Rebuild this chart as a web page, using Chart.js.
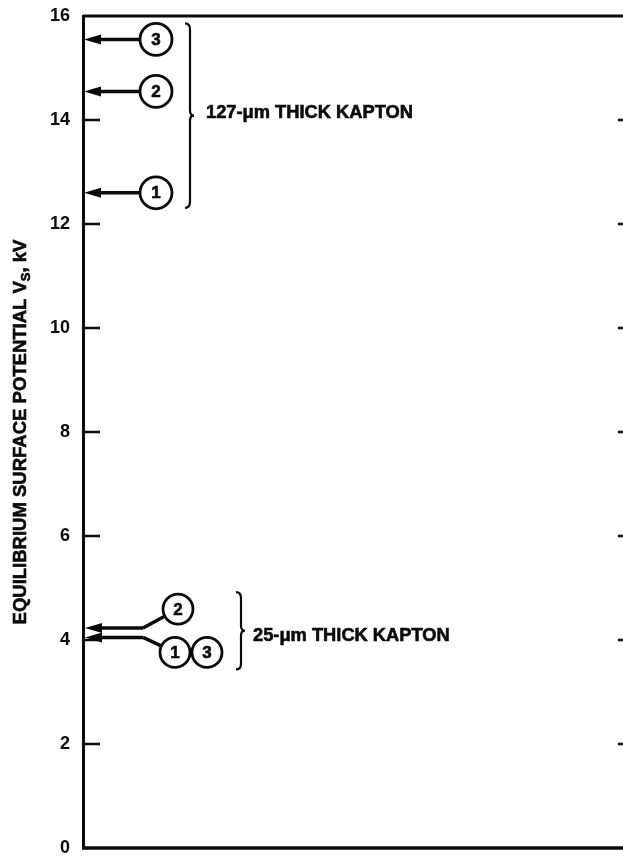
<!DOCTYPE html>
<html>
<head>
<meta charset="utf-8">
<script src="https://cdn.jsdelivr.net/npm/chart.js@4.4.1/dist/chart.umd.min.js"></script>
<style>
html, body { margin: 0; padding: 0; background: #fff; overflow: hidden; }
</style>
</head>
<body>
<canvas id="chart-vs" width="660" height="858"></canvas>
<script>
// equilibrium surface potential, kV, for samples 1..3
let sampleIds = ['1', '2', '3'];
let kapton127 = [12.6, 14.55, 15.55];
let kapton25 = [4.05, 4.23, 4.05];
let groupLabels = ['127-\u03bcm THICK KAPTON', '25-\u03bcm THICK KAPTON'];
let yMin = 0, yMax = 16, yStep = 2;
let yTitle = ['EQUILIBRIUM SURFACE POTENTIAL V', 'S', ', kV'];

const FONT = '"Liberation Sans", Arial, sans-serif';
const INK = '#0a0a0a';

function heavyText(ctx, txt, x, y) {
    ctx.lineWidth = 0.6;
    ctx.strokeText(txt, x, y);
    ctx.fillText(txt, x, y);
}

function arrow(ctx, xTip, y, xEnd) {
    ctx.lineWidth = 3.5;
    ctx.beginPath();
    ctx.moveTo(xTip + 10, y);
    ctx.lineTo(xEnd, y);
    ctx.stroke();
    ctx.beginPath();
    ctx.moveTo(xTip, y);
    ctx.lineTo(xTip + 17, y - 5);
    ctx.lineTo(xTip + 17, y + 5);
    ctx.closePath();
    ctx.fill();
}

function bubble(ctx, cx, cy, r, txt) {
    ctx.beginPath();
    ctx.arc(cx, cy, r, 0, Math.PI * 2);
    ctx.fillStyle = '#fff';
    ctx.fill();
    ctx.lineWidth = 2.8;
    ctx.stroke();
    ctx.fillStyle = INK;
    ctx.font = 'bold 17px ' + FONT;
    ctx.textAlign = 'center';
    ctx.textBaseline = 'middle';
    heavyText(ctx, txt, cx, cy + 1);
}

function brace(ctx, x, top, bottom) {
    let mid = (top + bottom) / 2;
    ctx.lineWidth = 2.2;
    ctx.beginPath();
    ctx.moveTo(x - 5, top);
    ctx.quadraticCurveTo(x, top, x, top + 6);
    ctx.lineTo(x, mid - 5);
    ctx.quadraticCurveTo(x, mid, x + 4, mid);
    ctx.quadraticCurveTo(x, mid, x, mid + 5);
    ctx.lineTo(x, bottom - 6);
    ctx.quadraticCurveTo(x, bottom, x - 5, bottom);
    ctx.stroke();
}

const annotations = {
    id: 'annotations',
    afterDraw(chart) {
        let ctx = chart.ctx;
        let area = chart.chartArea;
        let y = chart.scales.y;
        ctx.save();
        ctx.strokeStyle = INK;
        ctx.fillStyle = INK;
        ctx.lineCap = 'butt';

        // frame (left side is the y border)
        ctx.lineWidth = 3;
        ctx.beginPath();
        ctx.moveTo(area.left, area.top);
        ctx.lineTo(area.right, area.top);
        ctx.stroke();
        ctx.lineWidth = 3.5;
        ctx.beginPath();
        ctx.moveTo(area.left - 1, area.bottom);
        ctx.lineTo(area.right, area.bottom);
        ctx.stroke();
        ctx.lineWidth = 3;
        ctx.beginPath();
        ctx.moveTo(area.right, area.top);
        ctx.lineTo(area.right, area.bottom);
        ctx.stroke();

        // inward ticks on both sides
        ctx.lineWidth = 2.5;
        y.ticks.forEach(t => {
            if (t.value <= yMin || t.value >= yMax) return;
            let py = y.getPixelForValue(t.value);
            ctx.beginPath();
            ctx.moveTo(area.left, py);
            ctx.lineTo(area.left + 17, py);
            ctx.moveTo(area.right - 16, py);
            ctx.lineTo(area.right, py);
            ctx.stroke();
        });

        // 127-um group: one arrow per sample
        let ys127 = kapton127.map(v => y.getPixelForValue(v));
        ys127.forEach((py, i) => {
            arrow(ctx, area.left + 1, py, 142);
            bubble(ctx, 156, py, 16, sampleIds[i]);
        });
        let top127 = Math.min(...ys127) - 16;
        let bot127 = Math.max(...ys127) + 15;
        brace(ctx, 190, top127, bot127);
        ctx.font = 'bold 18.3px ' + FONT;
        ctx.textAlign = 'left';
        ctx.textBaseline = 'middle';
        heavyText(ctx, groupLabels[0], 206, (top127 + bot127) / 2 - 3);

        // 25-um group: samples sharing a value share one arrow
        let hiVal = Math.max(...kapton25);
        let loVal = Math.min(...kapton25);
        let yHi = y.getPixelForValue(hiVal);
        let yLo = y.getPixelForValue(loVal);
        arrow(ctx, area.left + 2, yHi, 143);
        arrow(ctx, area.left + 2, yLo, 143);
        ctx.lineWidth = 3.5;
        ctx.beginPath();
        ctx.moveTo(143, yHi);
        ctx.lineTo(178, yHi - 19);
        ctx.moveTo(143, yLo);
        ctx.lineTo(175, yLo + 15);
        ctx.stroke();
        let loX = 175;
        kapton25.forEach((v, i) => {
            if (v === hiVal) {
                bubble(ctx, 178, yHi - 19, 15, sampleIds[i]);
            } else {
                bubble(ctx, loX, yLo + 15, 15, sampleIds[i]);
                loX += 32;
            }
        });
        brace(ctx, 241, yHi - 36, yLo + 32);
        ctx.font = 'bold 18.3px ' + FONT;
        ctx.textAlign = 'left';
        ctx.textBaseline = 'middle';
        heavyText(ctx, groupLabels[1], 253, yLo - 1);

        // y title with subscript
        ctx.save();
        ctx.translate(21, (area.top + area.bottom) / 2);
        ctx.rotate(-Math.PI / 2);
        let big = 'bold 18.5px ' + FONT, small = 'bold 13px ' + FONT;
        ctx.font = big;
        let w0 = ctx.measureText(yTitle[0]).width;
        let w2 = ctx.measureText(yTitle[2]).width;
        ctx.font = small;
        let w1 = ctx.measureText(yTitle[1]).width;
        let x = -(w0 + w1 + w2) / 2;
        ctx.textAlign = 'left';
        ctx.textBaseline = 'middle';
        ctx.font = big;
        heavyText(ctx, yTitle[0], x, 0);
        ctx.font = small;
        heavyText(ctx, yTitle[1], x + w0, 5);
        ctx.font = big;
        heavyText(ctx, yTitle[2], x + w0 + w1, 0);
        ctx.restore();

        ctx.restore();
    }
};

let chartVs = new Chart(document.getElementById('chart-vs').getContext('2d'), {
    type: 'scatter',
    data: { datasets: [] },
    options: {
        responsive: false,
        animation: false,
        events: [],
        layout: { padding: { top: 16, bottom: 10, left: 0, right: 26 } },
        plugins: { legend: { display: false }, tooltip: { enabled: false } },
        scales: {
            x: { type: 'linear', min: 0, max: 1, display: false },
            y: {
                type: 'linear',
                min: yMin,
                max: yMax,
                afterFit(scale) {
                    scale.width = 83;
                    scale.paddingTop = 0;
                    scale.paddingBottom = 0;
                },
                grid: { display: false, drawTicks: false },
                border: { display: true, width: 3, color: INK },
                ticks: {
                    stepSize: yStep,
                    padding: 13,
                    color: INK,
                    font: { family: FONT, size: 18, weight: 'bold' }
                }
            }
        }
    },
    plugins: [annotations]
});
</script>
</body>
</html>
